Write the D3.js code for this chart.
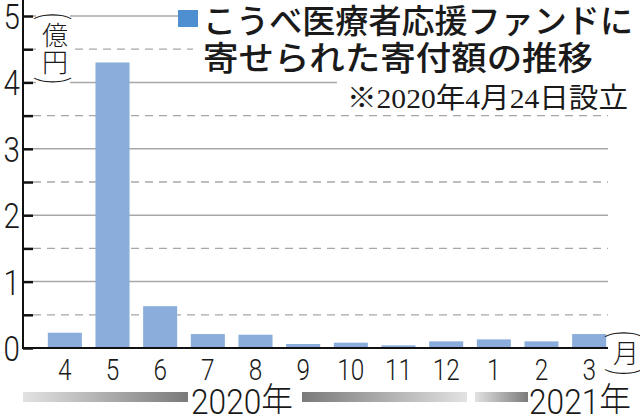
<!DOCTYPE html>
<html>
<head>
<meta charset="utf-8">
<script src="https://cdn.jsdelivr.net/npm/d3@7"></script>
<style>
  body { margin: 0; background: #fff; }
  svg { display: block; }
</style>
</head>
<body>
<div id="chart"></div>
<script>
// data (億円)
const months = ["4", "5", "6", "7", "8", "9", "10", "11", "12", "1", "2", "3"];
const amounts = [0.23, 4.30, 0.63, 0.21, 0.20, 0.06, 0.08, 0.04, 0.10, 0.13, 0.10, 0.21];
const yTicks = [0, 1, 2, 3, 4, 5];
const halfTicks = [0.5, 1.5, 2.5, 3.5, 4.5];
const titleLines = ["こうべ医療者応援ファンドに", "寄せられた寄付額の推移"];
const note = "※2020年4月24日設立";

const width = 640, height = 414;
const axisX = 23, rightX = 608;
const numFont = 'Roboto, "Noto Sans CJK JP", sans-serif';
const jpFont = '"Noto Sans CJK JP", sans-serif';

const svg = d3.select("#chart").append("svg")
    .attr("width", width)
    .attr("height", height);

const x = d3.scaleBand()
    .domain(months)
    .range([41, 613])
    .paddingInner(0.286)
    .paddingOuter(0.143);

const y = d3.scaleLinear()
    .domain([0, 5])
    .range([348, 16]);

// gradients for the year bars
const defs = svg.append("defs");
function grad(id, from, to) {
  const g = defs.append("linearGradient").attr("id", id);
  g.append("stop").attr("offset", "0%").attr("stop-color", from);
  g.append("stop").attr("offset", "100%").attr("stop-color", to);
}
grad("g1", "#e2e2e2", "#7a7a7a");
grad("g2", "#7a7a7a", "#e2e2e2");
grad("g3", "#e2e2e2", "#7a7a7a");

// gridlines
svg.append("g").selectAll("line")
    .data(yTicks.slice(1))
    .enter().append("line")
    .attr("x1", axisX + 10).attr("x2", rightX)
    .attr("y1", d => y(d)).attr("y2", d => y(d))
    .attr("stroke", "#a8a8a8")
    .attr("stroke-width", 1.5);

svg.append("g").selectAll("line")
    .data(halfTicks)
    .enter().append("line")
    .attr("x1", axisX + 10).attr("x2", rightX)
    .attr("y1", d => y(d)).attr("y2", d => y(d))
    .attr("stroke", "#a8a8a8")
    .attr("stroke-width", 1.3)
    .attr("stroke-dasharray", "8,6");

// white boxes behind the title, note and unit label
svg.append("rect").attr("x", 193).attr("y", 0).attr("width", 447).attr("height", 72).attr("fill", "#fff");
svg.append("rect").attr("x", 337).attr("y", 72).attr("width", 303).attr("height", 38).attr("fill", "#fff");
svg.append("rect").attr("x", 36).attr("y", 8).attr("width", 34).attr("height", 84).attr("fill", "#fff");

// bars
svg.append("g").selectAll("rect")
    .data(amounts)
    .enter().append("rect")
    .attr("x", (d, i) => x(months[i]))
    .attr("width", x.bandwidth())
    .attr("y", d => y(d))
    .attr("height", d => y(0) - y(d))
    .attr("fill", "#8aaddb");

// y axis
const yAxis = d3.axisLeft(y)
    .tickValues(yTicks.concat(halfTicks))
    .tickSize(-10)
    .tickFormat("");
const ya = svg.append("g")
    .attr("transform", `translate(${axisX},0)`)
    .call(yAxis);
ya.select(".domain").remove();
ya.selectAll(".tick line").attr("stroke", "#111").attr("stroke-width", 2.5);
svg.append("line")
    .attr("x1", axisX).attr("x2", axisX)
    .attr("y1", 0).attr("y2", y(0) + 1)
    .attr("stroke", "#111").attr("stroke-width", 2);

svg.append("g").selectAll("text")
    .data(yTicks)
    .enter().append("text")
    .attr("transform", d => `translate(20,${y(d) + 13}) scale(0.82,1)`)
    .attr("text-anchor", "end")
    .style("font-family", numFont)
    .style("font-size", "36px")
    .style("font-weight", 300)
    .attr("fill", "#1a1a1a")
    .text(d => d);

// baseline
svg.append("line")
    .attr("x1", axisX).attr("x2", rightX)
    .attr("y1", y(0)).attr("y2", y(0))
    .attr("stroke", "#111").attr("stroke-width", 2);

// month labels
const xa = svg.append("g")
    .attr("transform", `translate(0,${y(0)})`)
    .call(d3.axisBottom(x).tickSize(0).tickPadding(0));
xa.select(".domain").remove();
xa.selectAll(".tick text")
    .attr("y", 0)
    .attr("dy", 0)
    .attr("transform", "translate(0,32) scale(0.84,1)")
    .style("font-family", numFont)
    .style("font-size", "29px")
    .style("font-weight", 300)
    .attr("fill", "#1a1a1a");

// unit labels (vertical): parens are rotated brackets
function vLabel(cx, top, chars, size) {
  const g = svg.append("g");
  let yy = top;
  chars.forEach(c => {
    const isParen = c === "(" || c === ")";
    const t = g.append("text")
      .attr("text-anchor", "middle")
      .style("font-family", isParen ? numFont : jpFont)
      .style("font-size", size + "px")
      .style("font-weight", 300)
      .attr("fill", "#1a1a1a")
      .text(c);
    if (isParen) {
      // rotate 90deg so "(" becomes an arch over the word
      t.attr("dominant-baseline", "central")
       .attr("transform", `translate(${cx},${yy + size * 0.2}) rotate(90) scale(0.75,1.45)`);
      yy += size * 0.44;
    } else {
      t.attr("x", cx).attr("y", yy + size * 0.88);
      yy += size * 1.02;
    }
  });
}
vLabel(55, 11, ["(", "億", "円", ")"], 26);
vLabel(626, 329, ["(", "月", ")"], 26);

// title with legend swatch
svg.append("rect")
    .attr("x", 178).attr("y", 10)
    .attr("width", 20).attr("height", 17)
    .attr("fill", "#4d8fd0");
svg.append("g").selectAll("text")
    .data(titleLines)
    .enter().append("text")
    .attr("x", 203)
    .attr("y", (d, i) => 33 + i * 37)
    .style("font-family", jpFont)
    .style("font-size", "33px")
    .style("font-weight", 500)
    .attr("fill", "#1a1a1a")
    .attr("textLength", (d, i) => i === 0 ? 430 : 390)
    .attr("lengthAdjust", "spacingAndGlyphs")
    .text(d => d);

svg.append("text")
    .attr("x", 347)
    .attr("y", 108)
    .style("font-family", '"Liberation Serif", "DejaVu Serif", "Noto Sans CJK JP", serif')
    .style("font-size", "28px")
    .attr("textLength", 281)
    .attr("lengthAdjust", "spacingAndGlyphs")
    .attr("fill", "#1a1a1a")
    .text(note);

// year bars
svg.append("rect").attr("x", 23).attr("y", 392).attr("width", 165).attr("height", 10).attr("fill", "url(#g1)");
svg.append("rect").attr("x", 302).attr("y", 392).attr("width", 165).attr("height", 10).attr("fill", "url(#g2)");
svg.append("rect").attr("x", 475).attr("y", 392).attr("width", 53).attr("height", 10).attr("fill", "url(#g3)");

[["2020年", 191], ["2021年", 529]].forEach(([label, lx]) => {
  svg.append("text")
    .attr("transform", `translate(${lx},414) scale(0.88,1)`)
    .style("font-family", numFont)
    .style("font-size", "36px")
    .style("font-weight", 300)
    .attr("fill", "#1a1a1a")
    .text(label);
});
</script>
</body>
</html>
